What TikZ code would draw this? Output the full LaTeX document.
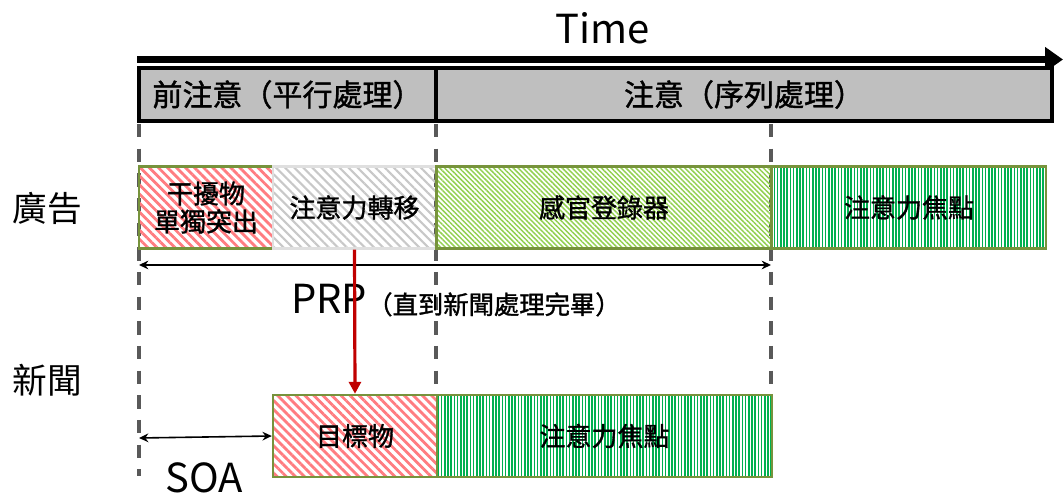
\documentclass[tikz,border=0pt]{standalone}
\usepackage{fontspec}
\setmainfont{Noto Sans CJK TC}
\newfontfamily\medfont{Noto Sans CJK TC}[FakeBold=1.3]
\usetikzlibrary{patterns.meta,arrows.meta}
\definecolor{olivegreen}{HTML}{77933C}
\definecolor{hdrgray}{HTML}{BFBFBF}
\definecolor{dashgray}{HTML}{595959}
\definecolor{stripered}{HTML}{FF7C80}
\definecolor{stripegray}{HTML}{C8C8C8}
\definecolor{stripelime}{HTML}{92D050}
\definecolor{stripegreen}{HTML}{00B050}
\definecolor{arrowred}{HTML}{C00000}
\begin{document}
\begin{tikzpicture}[x=0.75pt,y=-0.75pt,
  hdr/.style={draw=black,line width=2.6pt,fill=hdrgray,minimum height=39.5pt,inner sep=0pt,font=\medfont\fontsize{22.5}{26}\selectfont},
  box/.style={draw=olivegreen,line width=1.8pt,minimum height=61.5pt,inner sep=0pt,align=center,font=\medfont\fontsize{19.5}{21}\selectfont},
  redhatch/.style={pattern={Lines[angle=-45,distance=4.8pt,line width=2.1pt]},pattern color=stripered},
  grayhatch/.style={pattern={Lines[angle=-45,distance=4.8pt,line width=1.6pt]},pattern color=stripegray},
  limehatch/.style={pattern={Lines[angle=-45,distance=2.6pt,line width=1.1pt]},pattern color=stripelime},
  greenbars/.style={pattern={Lines[angle=90,distance=2.4pt,line width=1.2pt]},pattern color=stripegreen},
  guide/.style={draw=dashgray,line width=3pt,dash pattern=on 10pt off 8.5pt},
  bigtext/.style={font=\fontsize{30}{34}\selectfont,inner sep=0pt},
  rowlabel/.style={font=\fontsize{26}{30}\selectfont,inner sep=0pt},
  span/.style={draw=black,line width=1.2pt,{Stealth[length=7pt,width=6.5pt]}-{Stealth[length=7pt,width=6.5pt]}}
]
\useasboundingbox (0,0) rectangle (1063,498);

% title and time axis
\node[bigtext] (time) at (603,28) {Time};
\coordinate (tstart) at (137,59.5);
\coordinate (tend) at (1063,59.5);
\draw[line width=5.6pt,-{Triangle[length=13.5pt,width=18pt]}] (tstart) -- (tend);

% headers
\node[hdr,minimum width=297*0.75pt] (h1) at (287.5,94.5) {前注意（平行處理）};
\node[hdr,minimum width=616*0.75pt] (h2) at (744,94.5) {注意（序列處理）};

% dashed guides
\coordinate (g1a) at (139,124); \coordinate (g1b) at (139,476);
\coordinate (g2a) at (436,124); \coordinate (g2b) at (436,395);
\coordinate (g3a) at (771,124); \coordinate (g3b) at (771,395);
\draw[guide] (g1a) -- (g1b);
\draw[guide] (g2a) -- (g2b);
\draw[guide] (g3a) -- (g3b);

% row labels
\node[rowlabel] (ad) at (47,208) {廣告};
\node[rowlabel] (news) at (47,380) {新聞};

% row 1
\node[box,redhatch,minimum width=134*0.75pt] (b1) at (206,207.5) {干擾物\\單獨突出};
\node[box,grayhatch,draw=gray!25,minimum width=163*0.75pt] (b2) at (354.5,207.5) {注意力轉移};
\node[box,limehatch,minimum width=335*0.75pt] (b3) at (604,207.5) {感官登錄器};
\node[box,greenbars,minimum width=274*0.75pt] (b4) at (909,207.5) {注意力焦點};

% row 2
\node[box,redhatch,minimum width=164*0.75pt] (t1) at (355,436) {目標物};
\node[box,greenbars,minimum width=335*0.75pt] (t2) at (604.5,436) {注意力焦點};

% PRP span
\coordinate (p1) at (139,265);
\coordinate (p2) at (771,265);
\draw[span] (p1) -- (p2);
\node[bigtext,anchor=base west] (prp) at (291,314) {PRP{\medfont\fontsize{19}{21}\selectfont（直到新聞處理完畢）}};

% red shift arrow
\draw[draw=arrowred,line width=2.4pt,-{Triangle[length=9pt,width=9pt]}] (b2.south) -- (t1.north);

% SOA span
\coordinate (s1) at (139,438);
\draw[span] (s1) -- (t1.west);
\node[bigtext] (soa) at (204,478) {SOA};
\end{tikzpicture}
\end{document}
